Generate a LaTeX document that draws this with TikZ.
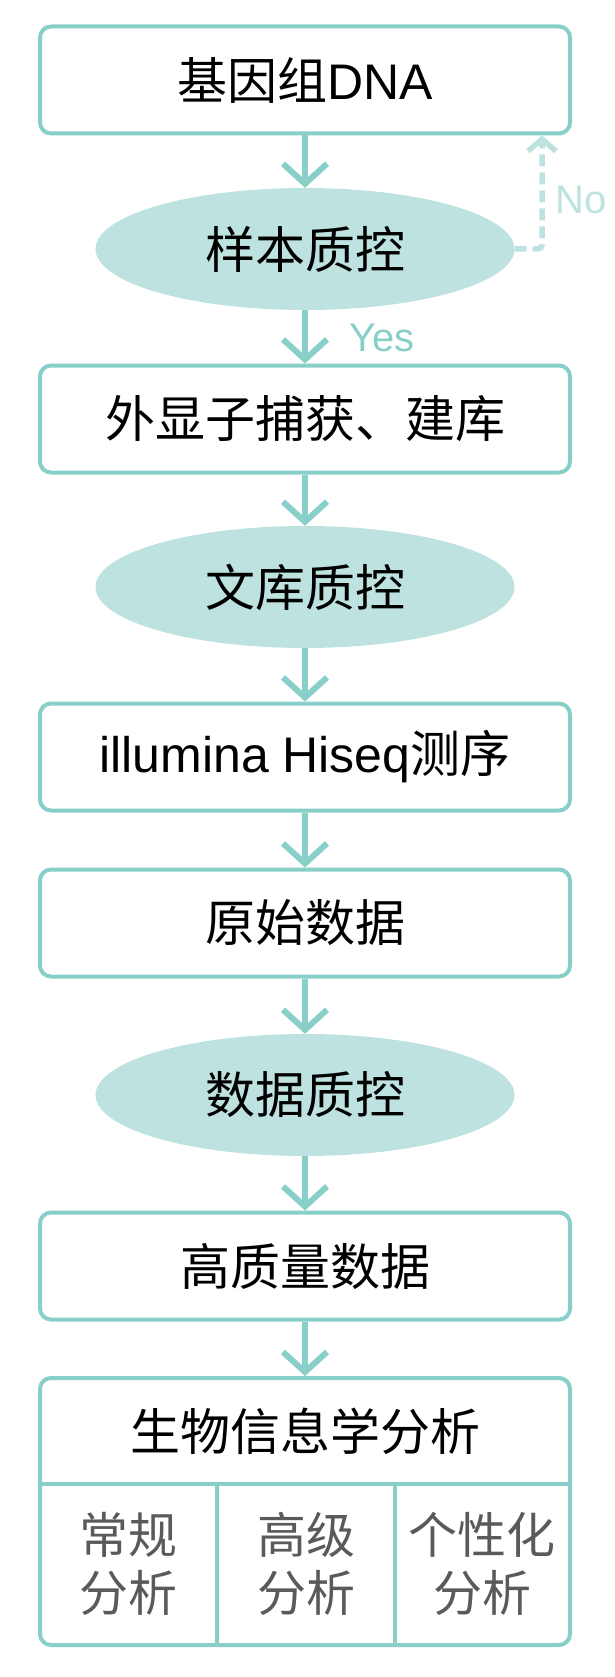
\documentclass[tikz,border=0pt]{standalone}
\usepackage{fontspec}
\setmainfont{Noto Sans CJK SC}
\newfontfamily\latin{Liberation Sans}
\usetikzlibrary{shapes.geometric,arrows.meta}
\definecolor{tealline}{HTML}{88CFCA}
\definecolor{tealfill}{HTML}{BEE2DF}
\definecolor{subgray}{HTML}{5A5A5A}
\tikzset{
  stepbox/.style={draw=tealline, line width=4pt, rounded corners=11pt,
    minimum width=530pt, minimum height=107pt, inner sep=0pt,
    font=\fontsize{50}{58}\selectfont},
  qcbox/.style={ellipse, fill=tealfill, minimum width=419pt,
    minimum height=122pt, inner sep=0pt, font=\fontsize{50}{58}\selectfont},
  flow/.style={draw=tealline, line width=6pt,
    -{Straight Barb[length=20pt,width=44pt]}},
  back/.style={draw=tealfill, line width=5.5pt, dash pattern=on 12pt off 6pt,
    rounded corners=4pt, -{Straight Barb[length=12pt,width=28pt]}},
  subtext/.style={text=subgray, align=center, font=\fontsize{49}{58}\selectfont}
}
\begin{document}
\begin{tikzpicture}[x=1pt,y=-1pt]
      \useasboundingbox (0,0) rectangle (614,1677);
      \draw
        (305,80) node[stepbox] (1){基因组{\latin DNA}}
        (305,249) node[qcbox] (2){样本质控}
        (305,419) node[stepbox] (3){外显子捕获、建库}
        (305,587) node[qcbox] (4){文库质控}
        (305,757) node[stepbox] (5){{\latin illumina Hiseq}测序}
        (305,923) node[stepbox] (6){原始数据}
        (305,1095) node[qcbox] (7){数据质控}
        (305,1266) node[stepbox] (8){高质量数据}
        (305,1511.5) node[stepbox, minimum height=267pt] (9){};
      \node (9t) at (305,1431) [font=\fontsize{50}{58}\selectfont] {生物信息学分析};
      \node (9a) at (128,1564) [subtext] {常规\\分析};
      \node (9b) at (306,1564) [subtext] {高级\\分析};
      \node (9c) at (482,1564) [subtext] {个性化\\分析};
      \begin{scope}[draw=tealline, line width=4pt]
        \coordinate (d1) at (9.west |- 0,1484);
        \draw (d1) -- (d1 -| 9.east);
        \draw (217,1484) -- (217,1484 |- 9.south);
        \draw (395,1484) -- (395,1484 |- 9.south);
      \end{scope}
      \begin{scope}[flow]
        \draw (1) to (2);
        \draw (2) to (3);
        \draw (3) to (4);
        \draw (4) to (5);
        \draw (5) to (6);
        \draw (6) to (7);
        \draw (7) to (8);
        \draw (8) to (9);
      \end{scope}
      \coordinate (nocorner) at (542,249);
      \draw[back] (2.east) -- (nocorner) -- (nocorner |- 1.south);
      \node (yes) at (382,338) [text=tealline, font=\latin\fontsize{40}{44}\selectfont] {Yes};
      \node (no) at (581,200) [text=tealfill, font=\latin\fontsize{40}{44}\selectfont] {No};
    \end{tikzpicture}
\end{document}
